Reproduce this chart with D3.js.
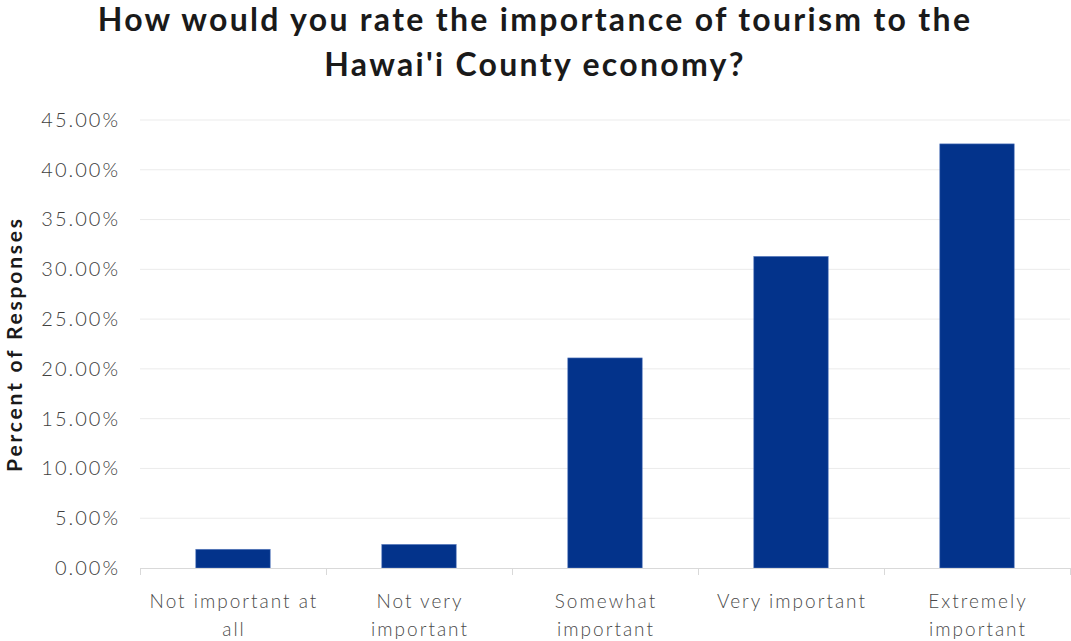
<!DOCTYPE html>
<html><head><meta charset="utf-8">
<script src="https://cdn.jsdelivr.net/npm/d3@7"></script>
<style>
body{margin:0;background:#fff;}
svg{display:block;}
</style></head>
<body>
<svg id="chart" width="1071" height="641"></svg>
<script>
const titleLines = ["How would you rate the importance of tourism to the", "Hawai'i County economy?"];
const categories = ["Not important at all", "Not very important", "Somewhat important", "Very important", "Extremely important"];
const categoryLines = [["Not important at", "all"], ["Not very", "important"], ["Somewhat", "important"], ["Very important"], ["Extremely", "important"]];
const values = [1.88, 2.37, 21.1, 31.3, 42.6];
const yTicks = [0, 5, 10, 15, 20, 25, 30, 35, 40, 45];
const yTitle = "Percent of Responses";

const svg = d3.select("#chart");
const m = {left: 140, right: 1070, top: 120, bottom: 568};

const x = d3.scaleBand().domain(categories).range([m.left, m.right]).paddingInner(0.6).paddingOuter(0.3);
const y = d3.scaleLinear().domain([0, 45]).range([m.bottom, m.top]);

// title
svg.append("g").selectAll("text").data(titleLines).join("text")
  .attr("x", 535).attr("y", (d, i) => 31 + i * 45)
  .attr("text-anchor", "middle")
  .attr("font-family", "Lato").attr("font-weight", 700)
  .attr("font-size", 32).attr("letter-spacing", 2.3).attr("fill", "#1a1a1a")
  .text(d => d);

// gridlines
svg.append("g").selectAll("line").data(yTicks.filter(t => t > 0)).join("line")
  .attr("x1", m.left).attr("x2", m.right)
  .attr("y1", d => y(d)).attr("y2", d => y(d))
  .attr("stroke", "#ebebeb").attr("stroke-width", 1);

// y axis labels
const yAxis = d3.axisLeft(y).tickValues(yTicks).tickSize(0).tickPadding(20)
  .tickFormat(d => d.toFixed(2) + "%");
const gy = svg.append("g").attr("transform", `translate(${m.left},0)`).call(yAxis);
gy.select(".domain").remove();
gy.selectAll("text").attr("font-family", "Lato").attr("font-weight", 300)
  .attr("font-size", 20).attr("letter-spacing", 2).attr("fill", "#404040");

// bars
svg.append("g").selectAll("rect").data(values).join("rect")
  .attr("x", (d, i) => x(categories[i]))
  .attr("width", x.bandwidth())
  .attr("y", d => y(d))
  .attr("height", d => y(0) - y(d))
  .attr("fill", "#03338B")
  .attr("stroke", "#5a7cbf").attr("stroke-width", 0.6);

// x axis
const xb = d3.scaleLinear().domain([0, categories.length]).range([m.left, m.right]);
const gx = svg.append("g");
gx.append("line").attr("x1", m.left).attr("x2", m.right)
  .attr("y1", m.bottom + 0.5).attr("y2", m.bottom + 0.5)
  .attr("stroke", "#d9d9d9");
gx.selectAll("line.tk").data(d3.range(categories.length + 1)).join("line").attr("class", "tk")
  .attr("x1", d => xb(d) + 0.5).attr("x2", d => xb(d) + 0.5)
  .attr("y1", m.bottom).attr("y2", m.bottom + 7)
  .attr("stroke", "#d9d9d9");

const lbl = gx.selectAll("text").data(categories).join("text")
  .attr("text-anchor", "middle")
  .attr("font-family", "Lato").attr("font-weight", 300)
  .attr("font-size", 19).attr("letter-spacing", 2).attr("fill", "#4a4a4a");
lbl.each(function(d, i) {
  const t = d3.select(this);
  categoryLines[i].forEach((line, j) => {
    t.append("tspan").attr("x", x(d) + x.bandwidth() / 2 + 1).attr("y", 608 + j * 28).text(line);
  });
});

// y title
svg.append("text")
  .attr("transform", `translate(22,${(m.top + m.bottom) / 2}) rotate(-90)`)
  .attr("text-anchor", "middle")
  .attr("font-family", "Lato").attr("font-weight", 700)
  .attr("font-size", 21).attr("letter-spacing", 2.8).attr("fill", "#1a1a1a")
  .text(yTitle);
</script>
</body></html>
